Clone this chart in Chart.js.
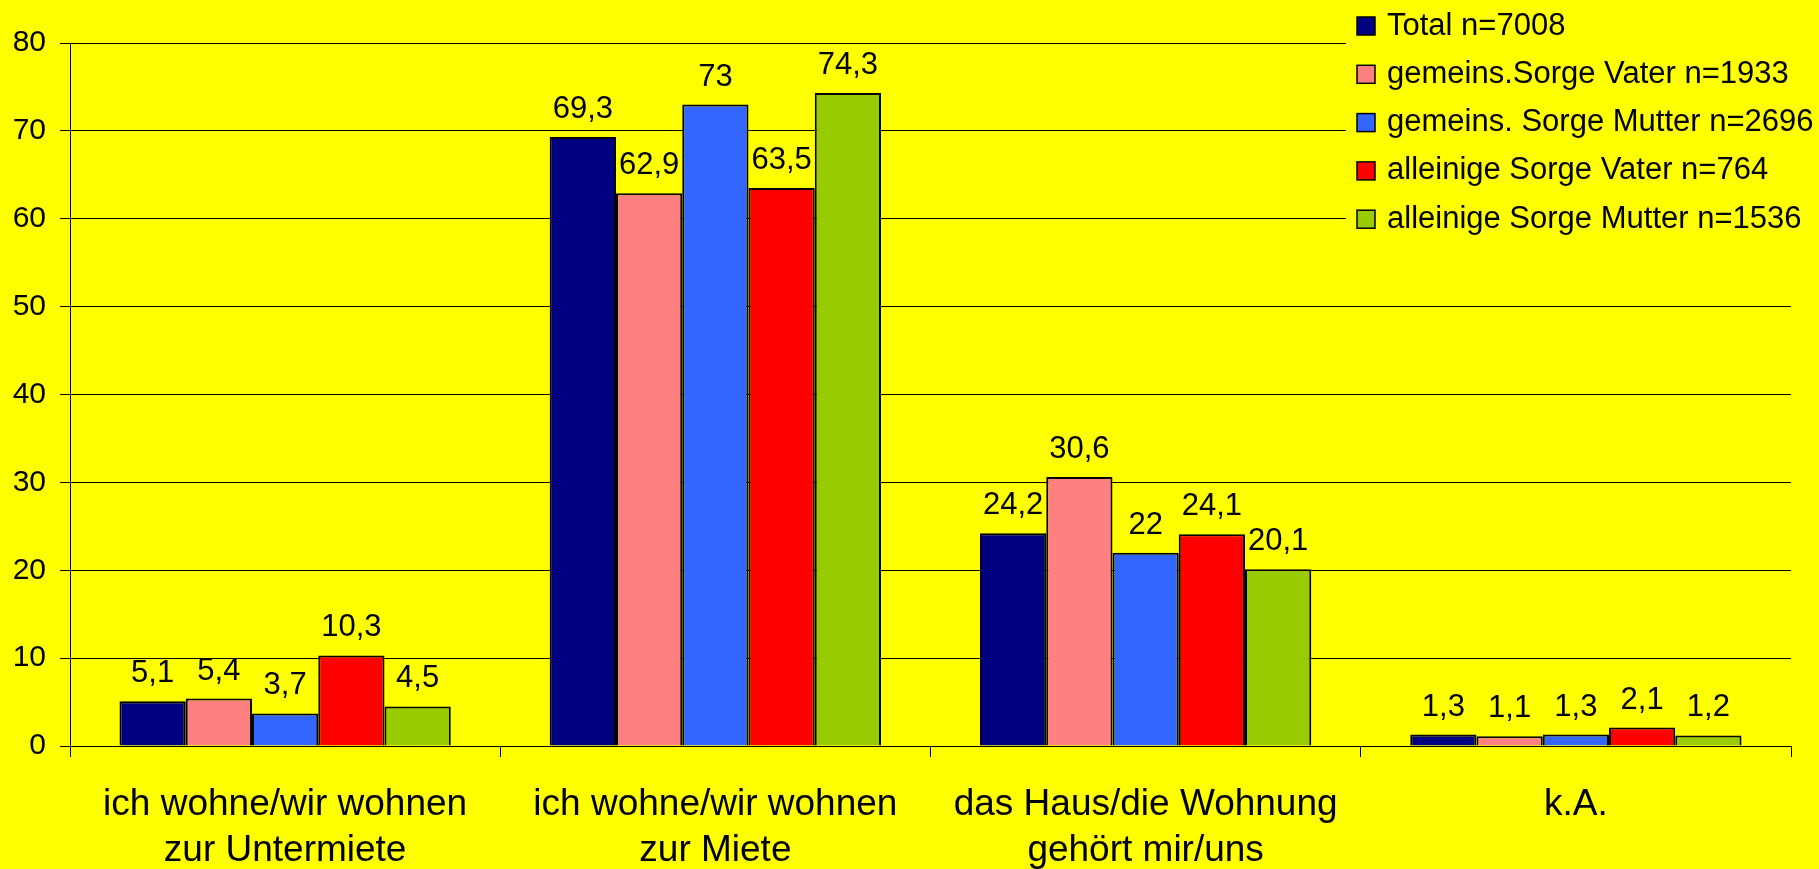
<!DOCTYPE html>
<html>
<head>
<meta charset="utf-8">
<script src="https://cdn.jsdelivr.net/npm/chart.js@4"></script>
<style>
  html, body { margin: 0; padding: 0; background: #FFFF00; overflow: hidden; }
  canvas { display: block; }
</style>
</head>
<body>
<canvas id="c" width="1819" height="869"></canvas>
<script>
const categories = [
  ["ich wohne/wir wohnen", "zur Untermiete"],
  ["ich wohne/wir wohnen", "zur Miete"],
  ["das Haus/die Wohnung", "gehört mir/uns"],
  ["k.A."]
];
const seriesNames = [
  "Total n=7008",
  "gemeins.Sorge Vater n=1933",
  "gemeins. Sorge Mutter n=2696",
  "alleinige Sorge Vater n=764",
  "alleinige Sorge Mutter n=1536"
];
const total = [5.1, 69.3, 24.2, 1.3];
const gemeinsVater = [5.4, 62.9, 30.6, 1.1];
const gemeinsMutter = [3.7, 73, 22, 1.3];
const alleinVater = [10.3, 63.5, 24.1, 2.1];
const alleinMutter = [4.5, 74.3, 20.1, 1.2];
const yTicks = [0, 10, 20, 30, 40, 50, 60, 70, 80];
const colors = ["#000080", "#FF8080", "#3366FF", "#FF0000", "#99CC00"];

const FONT = '"Liberation Sans", Arial, sans-serif';
const seriesValues = [total, gemeinsVater, gemeinsMutter, alleinVater, alleinMutter];

const bgPlugin = {
  id: 'bg',
  beforeDraw(chart) {
    const ctx = chart.ctx;
    ctx.save();
    ctx.fillStyle = '#FFFF00';
    ctx.fillRect(0, 0, chart.width, chart.height);
    ctx.restore();
  }
};

const labelPlugin = {
  id: 'valueLabels',
  afterDatasetsDraw(chart) {
    const ctx = chart.ctx;
    ctx.save();
    ctx.font = '31px ' + FONT;
    ctx.fillStyle = '#000';
    ctx.textAlign = 'center';
    ctx.textBaseline = 'alphabetic';
    chart.data.datasets.forEach((ds, i) => {
      const meta = chart.getDatasetMeta(i);
      meta.data.forEach((bar, j) => {
        const v = ds.data[j];
        ctx.fillText(String(v).replace('.', ','), bar.x, bar.y - 19);
      });
    });
    ctx.restore();
  }
};

const legendPlugin = {
  id: 'customLegend',
  afterDraw(chart) {
    const ctx = chart.ctx;
    ctx.save();
    ctx.fillStyle = '#FFFF00';
    ctx.fillRect(1346, 0, chart.width - 1346, 245);
    ctx.font = '31px ' + FONT;
    ctx.textAlign = 'left';
    ctx.textBaseline = 'middle';
    chart.data.datasets.forEach((ds, i) => {
      const cy = 26 + i * 48.3;
      ctx.fillStyle = ds.backgroundColor;
      ctx.fillRect(1357, cy - 9, 18, 18);
      ctx.strokeStyle = '#000';
      ctx.lineWidth = 1.5;
      ctx.strokeRect(1357, cy - 9, 18, 18);
      ctx.fillStyle = '#000';
      ctx.fillText(ds.label, 1387, cy);
    });
    ctx.restore();
  }
};

new Chart(document.getElementById('c'), {
  type: 'bar',
  data: {
    labels: categories,
    datasets: seriesNames.map((name, i) => ({
      label: name,
      data: seriesValues[i],
      backgroundColor: colors[i],
      borderColor: '#000',
      borderWidth: 2,
      categoryPercentage: 0.77,
      barPercentage: 1.0
    }))
  },
  options: {
    responsive: false,
    animation: false,
    devicePixelRatio: 1,
    layout: { padding: { top: 43, right: 28, bottom: 0, left: 0 } },
    plugins: {
      legend: { display: false },
      tooltip: { enabled: false }
    },
    scales: {
      x: {
        offset: true,
        grid: {
          display: true,
          drawOnChartArea: false,
          drawTicks: true,
          tickLength: 11,
          color: '#000',
          lineWidth: 1,
          offset: true
        },
        border: { display: true, color: '#000', width: 1 },
        ticks: {
          color: '#000',
          font: { family: FONT, size: 37, lineHeight: '46px' },
          padding: 25,
          maxRotation: 0,
          autoSkip: false
        },
        afterFit(scale) { scale.height = 123; }
      },
      y: {
        min: 0,
        max: 80,
        afterBuildTicks(scale) { scale.ticks = yTicks.map(v => ({ value: v })); },
        grid: {
          color: '#000',
          lineWidth: 1,
          drawTicks: true,
          tickLength: 10
        },
        border: { display: true, color: '#000', width: 1 },
        ticks: {
          color: '#000',
          font: { family: FONT, size: 30 },
          padding: 14
        },
        afterFit(scale) { scale.width = 70; }
      }
    }
  },
  plugins: [bgPlugin, labelPlugin, legendPlugin]
});
</script>
</body>
</html>
